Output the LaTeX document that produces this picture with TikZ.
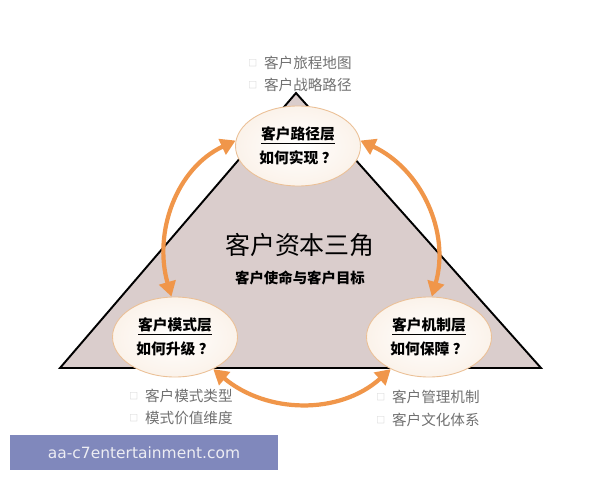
\documentclass[tikz,border=0pt]{standalone}
\usepackage{fontspec}
\setmainfont{Noto Sans CJK SC}
\newfontfamily\webfont{DejaVu Sans}
\usepackage{tikz}
\usetikzlibrary{shapes.geometric,arrows.meta,positioning}
\definecolor{trifill}{HTML}{DACDCC}
\definecolor{loopOrange}{HTML}{F0964A}
\definecolor{rimcol}{HTML}{EBC096}
\definecolor{bulletgray}{HTML}{707070}
\definecolor{boxgray}{HTML}{C4C4C4}
\definecolor{markbg}{HTML}{8088BC}
\definecolor{marktext}{HTML}{EDEDF3}
\newcommand{\bx}{\raisebox{1.2pt}{\color{boxgray}\fontsize{5}{5}\selectfont □}\hspace{4pt}}

\begin{document}
\begin{tikzpicture}[
    layer/.style={ellipse, draw=rimcol, line width=0.5pt, inner color=white, outer color=rimcol!20,
        minimum width=2.5cm, minimum height=1.6cm, inner sep=0pt, align=center,
        font=\fontsize{8.4}{14}\selectfont\bfseries},
    roundarrow/.style={draw=loopOrange, line width=2.4pt,
        {Triangle[length=8.5pt,width=9.5pt]}-{Triangle[length=8.5pt,width=9.5pt]}},
    points/.style={align=left, text=bulletgray, font=\fontsize{8.3}{13}\selectfont}]
    \useasboundingbox (0,0) rectangle (12,9.6);

    % Triangle
    \coordinate (apex) at (5.92,7.74);
    \coordinate (leftcorner) at (1.2,2.24);
    \coordinate (rightcorner) at (10.82,2.24);
    \filldraw[fill=trifill, draw=black, line width=1.1pt] (apex) -- (leftcorner) -- (rightcorner) -- cycle;

    \node (title) at (6.0,4.7) [font=\fontsize{14.2}{16}\selectfont] {客户资本三角};
    \node (mission) at (6.0,4.04) [font=\fontsize{8.2}{10}\selectfont\bfseries] {客户使命与客户目标};

    % Layers
    \node (path) at (5.96,6.68) [layer] {\underline{客户路径层}\\如何实现\hspace{2pt}？};
    \node (mode) at (3.5,2.86) [layer] {\underline{客户模式层}\\如何升级\hspace{2pt}？};
    \node (mech) at (8.58,2.86) [layer] {\underline{客户机制层}\\如何保障\hspace{2pt}？};

    % Loop
    \draw[roundarrow] (path.175) to[out=205, in=106] (mode.95);
    \draw[roundarrow] (path.5) to[out=-25, in=74] (mech.86);
    \draw[roundarrow] (mode.-40) to[out=-40, in=222] (mech.220);

    % Points
    \node (pathpts) at (6.0,8.12) [points] {\bx 客户旅程地图\\\bx 客户战略路径};
    \node (modepts) at (3.62,1.46) [points] {\bx 客户模式类型\\\bx 模式价值维度};
    \node (mechpts) at (8.56,1.43) [points] {\bx 客户管理机制\\\bx 客户文化体系};

    % Watermark
    \node (mark) at (2.88,0.55) [fill=markbg, minimum width=5.36cm, minimum height=0.7cm,
        text=marktext, font=\webfont\fontsize{8.8}{10}\selectfont] {aa-c7entertainment.com};
\end{tikzpicture}
\end{document}
